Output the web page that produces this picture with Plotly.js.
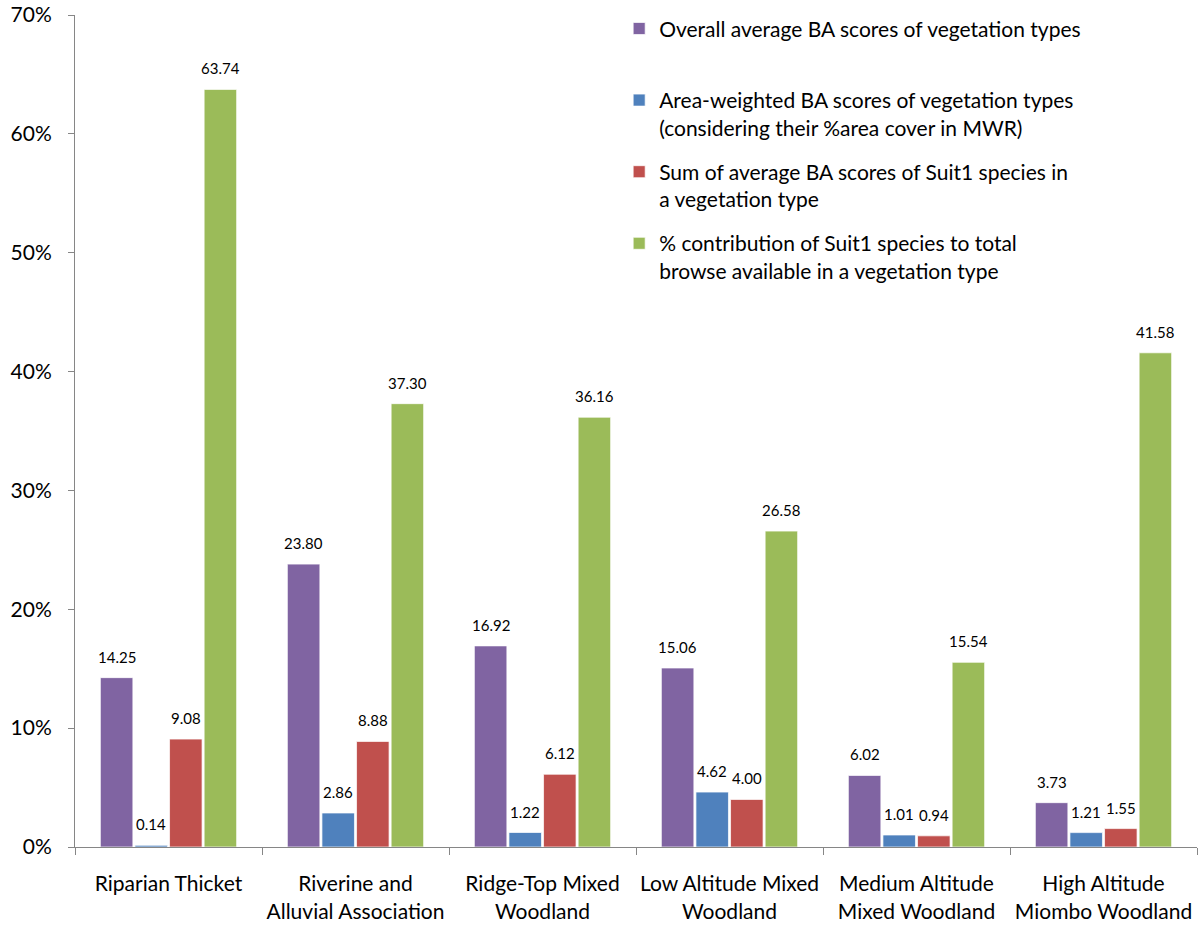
<!DOCTYPE html>
<html>
<head>
<meta charset="utf-8">
<script src="https://cdn.plot.ly/plotly-3.0.1.min.js"></script>
<style>html,body{margin:0;padding:0;background:#fff;}#chart{width:1202px;height:926px;}</style>
</head>
<body>
<div id="chart"></div>
<script>
var categories = [
  "Riparian Thicket",
  "Riverine and<br>Alluvial Association",
  "Ridge-Top Mixed<br>Woodland",
  "Low Altitude Mixed<br>Woodland",
  "Medium Altitude<br>Mixed Woodland",
  "High Altitude<br>Miombo Woodland"
];
var seriesNames = [
  "Overall average BA scores of vegetation types<br> ",
  "Area-weighted BA scores of vegetation types<br>(considering their %area cover in MWR)",
  "Sum of average BA scores of Suit1 species in<br>a vegetation type",
  "% contribution of Suit1 species to total<br>browse available in a vegetation type"
];
var overallBA = [14.25, 23.80, 16.92, 15.06, 6.02, 3.73];
var areaWeightedBA = [0.14, 2.86, 1.22, 4.62, 1.01, 1.21];
var suit1SumBA = [9.08, 8.88, 6.12, 4.00, 0.94, 1.55];
var suit1Contribution = [63.74, 37.30, 36.16, 26.58, 15.54, 41.58];
var colors = ["#8064A2", "#4F81BD", "#C0504D", "#9BBB59"];
var yTickVals = [0, 10, 20, 30, 40, 50, 60, 70];
var yTickText = ["0%", "10%", "20%", "30%", "40%", "50%", "60%", "70%"];

var allSeries = [overallBA, areaWeightedBA, suit1SumBA, suit1Contribution];
var W = 1202, H = 926;
var margin = {l: 75, r: 5, t: 15, b: 79};
var bargap = 0.26, bargroupgap = 0.06;
var plotW = W - margin.l - margin.r;
var slot = plotW / categories.length * (1 - bargap) / allSeries.length;

var traces = allSeries.map(function (vals, i) {
  return {
    type: "bar",
    name: seriesNames[i],
    x: categories,
    y: vals,
    legendgroup: "g" + i,
    marker: {color: colors[i], line: {color: "rgba(255,255,255,0.7)", width: 1}},
    hoverinfo: "x+y"
  };
});

var annotations = [];
allSeries.forEach(function (vals, i) {
  vals.forEach(function (v, j) {
    annotations.push({
      x: categories[j], y: v, xref: "x", yref: "y",
      text: v.toFixed(2), showarrow: false,
      xshift: (i - (allSeries.length - 1) / 2) * slot,
      yanchor: "bottom", yshift: 10,
      font: {family: "Lato, 'Open Sans', sans-serif", size: 15, color: "#000"}
    });
  });
});

var layout = {
  width: W, height: H,
  margin: margin,
  paper_bgcolor: "#fff", plot_bgcolor: "#fff",
  font: {family: "Lato, 'Open Sans', sans-serif", color: "#000"},
  barmode: "group",
  bargap: bargap, bargroupgap: bargroupgap,
  showlegend: true,
  legend: {
    x: 0.485, xanchor: "left", y: 1.008, yanchor: "top",
    font: {size: 21, color: "#000"},
    valign: "top",
    tracegroupgap: 14,
    itemwidth: 30,
    bgcolor: "rgba(0,0,0,0)"
  },
  xaxis: {
    type: "category",
    showline: true, linecolor: "#868686", linewidth: 1,
    ticks: "outside", tickson: "boundaries", ticklen: 7, tickcolor: "#868686",
    tickfont: {size: 21, color: "#000"},
    tickangle: 0,
    ticklabelstandoff: 18,
    showgrid: false, zeroline: false
  },
  yaxis: {
    range: [0, 70],
    tickvals: yTickVals, ticktext: yTickText,
    showline: true, linecolor: "#868686", linewidth: 1,
    ticks: "outside", ticklen: 6, tickcolor: "#868686",
    tickfont: {size: 21, color: "#000"},
    ticklabelstandoff: 12,
    showgrid: false, zeroline: false
  },
  annotations: annotations
};

Plotly.newPlot("chart", traces, layout, {displayModeBar: false, staticPlot: true});
</script>
</body>
</html>
